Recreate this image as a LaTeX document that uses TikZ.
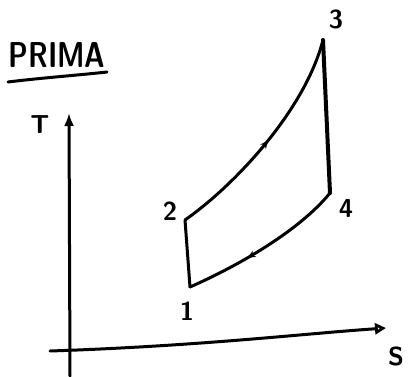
\documentclass[tikz,border=0pt]{standalone}
\usetikzlibrary{arrows.meta,decorations.markings}
\begin{document}
\begin{tikzpicture}[x=1pt,y=-1pt,
  ink/.style={line width=3pt,line cap=round,line join=round},
  lbl/.style={font=\sffamily\bfseries\fontsize{26}{26}\selectfont,inner sep=0pt},
  midarrow/.style={postaction={decorate},decoration={markings,mark=at position #1 with {\arrow{Stealth[length=8pt,width=7pt]}}}}]
\useasboundingbox (0,0) rectangle (408,376);
% title
\node[lbl,font=\sffamily\bfseries\fontsize{36}{36}\selectfont,xscale=0.78] (title) at (57,55) {PRIMA};
\draw[ink] (8,82) .. controls (40,78) and (80,75) .. (107,72);
% axes
\coordinate (ybot) at (70,376);
\coordinate (ytop) at (69,113);
\coordinate (xleft) at (50,351);
\coordinate (xright) at (386,328);
\draw[ink,-{Latex[length=13pt,width=10pt]}] (ybot) -- (ytop);
\draw[ink,-{Triangle[open,length=11pt,width=11pt]}] (xleft) .. controls (200,346) and (300,334) .. (xright);
\node[lbl] (T) at (40,125) {T};
\node[lbl] (S) at (396,356) {S};
% state points
\coordinate (p1) at (190,287);
\coordinate (p2) at (185,220);
\coordinate (p3) at (323,40);
\coordinate (p4) at (330,193);
\draw[ink] (p1) -- (p2);
\draw[ink,midarrow=0.5] (p2) .. controls (235,185) and (305,110) .. (p3);
\draw[ink,line width=4pt] (p3) -- (p4);
\draw[ink,midarrow=0.62] (p4) .. controls (300,230) and (240,265) .. (p1);
% labels
\node[lbl] (l1) at (187,311) {1};
\node[lbl] (l2) at (170,211) {2};
\node[lbl] (l3) at (336,19) {3};
\node[lbl] (l4) at (346,208) {4};
\end{tikzpicture}
\end{document}
